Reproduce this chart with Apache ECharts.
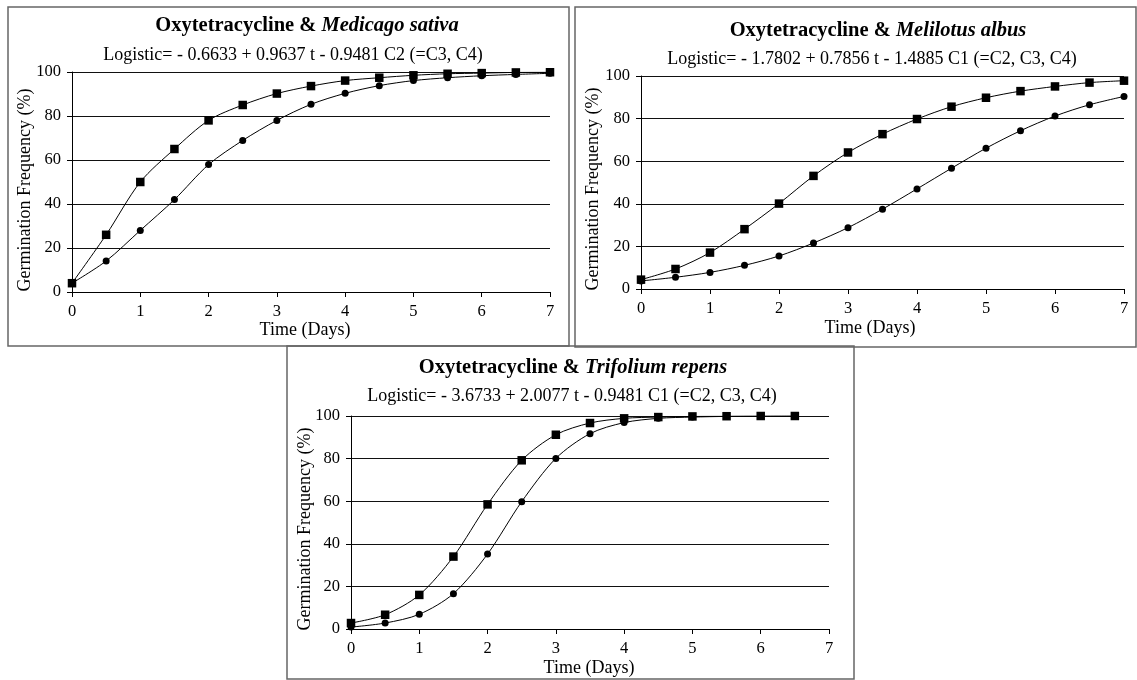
<!DOCTYPE html>
<html>
<head>
<meta charset="utf-8">
<script src="https://cdn.jsdelivr.net/npm/echarts@6/dist/echarts.min.js"></script>
<style>
  html, body { margin: 0; padding: 0; background: #fff; }
  #chart { width: 1137px; height: 680px; }
</style>
</head>
<body>
<div id="chart"></div>
<script>
// Germination frequency (%) against time (days), two treatments per species
const days = [0, 0.5, 1, 1.5, 2, 2.5, 3, 3.5, 4, 4.5, 5, 5.5, 6, 6.5, 7];
const repensDays = [0, 0.5, 1, 1.5, 2, 2.5, 3, 3.5, 4, 4.5, 5, 5.5, 6, 6.5];

const sativaSquares = [4, 26, 50, 65, 78, 85, 90.2, 93.6, 96.1, 97.4, 98.5, 99.2, 99.5, 99.8, 99.9];
const sativaCircles = [4, 14.1, 28, 42, 57.9, 68.9, 78, 85.3, 90.3, 93.8, 96.1, 97.4, 98.3, 98.9, 99.4];

const albusSquares = [4.4, 9.4, 17.1, 28.1, 40.1, 53.1, 64.1, 72.7, 79.8, 85.6, 89.8, 92.9, 95.1, 96.9, 97.8];
const albusCircles = [3.8, 5.5, 7.8, 11.1, 15.5, 21.6, 28.8, 37.5, 47, 56.7, 66.1, 74.3, 81.2, 86.5, 90.4];

const repensSquares = [2.8, 6.7, 16, 34, 58.5, 79.2, 91.2, 96.7, 98.9, 99.5, 99.8, 99.9, 100, 100];
const repensCircles = [0.9, 2.8, 6.9, 16.6, 35.2, 59.8, 80.1, 91.7, 96.9, 98.9, 99.5, 99.8, 99.9, 100];

// Axis ranges
const xRange = { min: 0, max: 7, interval: 1 };
const yRange = { min: 0, max: 100, interval: 20 };

const species = ['Medicago sativa', 'Melilotus albus', 'Trifolium repens'];
const equations = [
  'Logistic= - 0.6633 + 0.9637 t - 0.9481 C2 (=C3, C4)',
  'Logistic= - 1.7802 + 0.7856 t - 1.4885 C1 (=C2, C3, C4)',
  'Logistic= - 3.6733 + 2.0077 t - 0.9481 C1 (=C2, C3, C4)'
];
const yName = 'Germination Frequency (%)';
const xName = 'Time (Days)';

const FONT = '"Liberation Serif", "Times New Roman", serif';

// Panel geometry: plot area, outer frame, and text anchors
const panels = [
  { plot: [72, 72, 478, 220], frame: [8, 7, 561, 339],
    title: [307, 26], eq: [293, 55], yn: [25, 190], xn: [305, 330],
    x: days, sq: sativaSquares, ci: sativaCircles },
  { plot: [641, 76, 483, 213], frame: [575, 7, 561, 340],
    title: [878, 30.5], eq: [872, 59.5], yn: [593, 189], xn: [870, 328],
    x: days, sq: albusSquares, ci: albusCircles },
  { plot: [351, 416, 478, 213], frame: [287, 346, 567, 333],
    title: [573, 368], eq: [572, 396], yn: [305, 529], xn: [589, 668],
    x: repensDays, sq: repensSquares, ci: repensCircles }
];

const grids = [], xAxes = [], yAxes = [], series = [], graphics = [];

panels.forEach((p, i) => {
  grids.push({ left: p.plot[0], top: p.plot[1], width: p.plot[2], height: p.plot[3] });

  xAxes.push({
    type: 'value', gridIndex: i, ...xRange,
    axisLine: { show: true, lineStyle: { color: '#000', width: 1 } },
    axisTick: { show: true, length: 5, lineStyle: { color: '#000' } },
    axisLabel: { color: '#000', fontFamily: FONT, fontSize: 16.5, margin: 11 },
    splitLine: { show: false }
  });

  yAxes.push({
    type: 'value', gridIndex: i, ...yRange,
    axisLine: { show: true, lineStyle: { color: '#000', width: 1 } },
    axisTick: { show: true, length: 5, lineStyle: { color: '#000' } },
    axisLabel: { color: '#000', fontFamily: FONT, fontSize: 16.5, margin: 11 },
    splitLine: { show: true, lineStyle: { color: '#111', width: 1 } }
  });

  const lineBase = {
    type: 'line', xAxisIndex: i, yAxisIndex: i, smooth: 0.3,
    lineStyle: { color: '#000', width: 1 },
    itemStyle: { color: '#000' },
    showSymbol: true, animation: false, silent: true
  };
  series.push(Object.assign({}, lineBase, {
    symbol: 'circle', symbolSize: 7,
    data: p.x.map((d, k) => [d, p.ci[k]])
  }));
  series.push(Object.assign({}, lineBase, {
    symbol: 'rect', symbolSize: 8.5,
    data: p.x.map((d, k) => [d, p.sq[k]])
  }));

  // frame
  graphics.push({
    type: 'rect', z: -1,
    shape: { x: p.frame[0], y: p.frame[1], width: p.frame[2], height: p.frame[3] },
    style: { fill: 'none', stroke: '#666', lineWidth: 1.5 }
  });
  // chart title with italic species name
  graphics.push({
    type: 'text', x: p.title[0], y: p.title[1],
    style: {
      text: '{b|Oxytetracycline & }{i|' + species[i] + '}',
      align: 'center', verticalAlign: 'middle',
      fontFamily: FONT, fontSize: 20.5, fontWeight: 'bold', fill: '#000',
      rich: {
        b: { fontFamily: FONT, fontSize: 20.5, fontWeight: 'bold', fontStyle: 'normal', fill: '#000' },
        i: { fontFamily: FONT, fontSize: 20.5, fontWeight: 'bold', fontStyle: 'italic', fill: '#000' }
      }
    }
  });
  // model equation
  graphics.push({
    type: 'text', x: p.eq[0], y: p.eq[1],
    style: {
      text: equations[i], align: 'center', verticalAlign: 'middle',
      fontFamily: FONT, fontSize: 18, fill: '#000'
    }
  });
  // axis names
  graphics.push({
    type: 'text', x: p.yn[0], y: p.yn[1], rotation: Math.PI / 2,
    style: {
      text: yName, align: 'center', verticalAlign: 'middle',
      fontFamily: FONT, fontSize: 18, fill: '#000'
    }
  });
  graphics.push({
    type: 'text', x: p.xn[0], y: p.xn[1],
    style: {
      text: xName, align: 'center', verticalAlign: 'middle',
      fontFamily: FONT, fontSize: 18, fill: '#000'
    }
  });
});

const chart = echarts.init(document.getElementById('chart'), null, { renderer: 'canvas' });
chart.setOption({
  backgroundColor: '#fff',
  animation: false,
  grid: grids,
  xAxis: xAxes,
  yAxis: yAxes,
  series: series,
  graphic: graphics
});
</script>
</body>
</html>
